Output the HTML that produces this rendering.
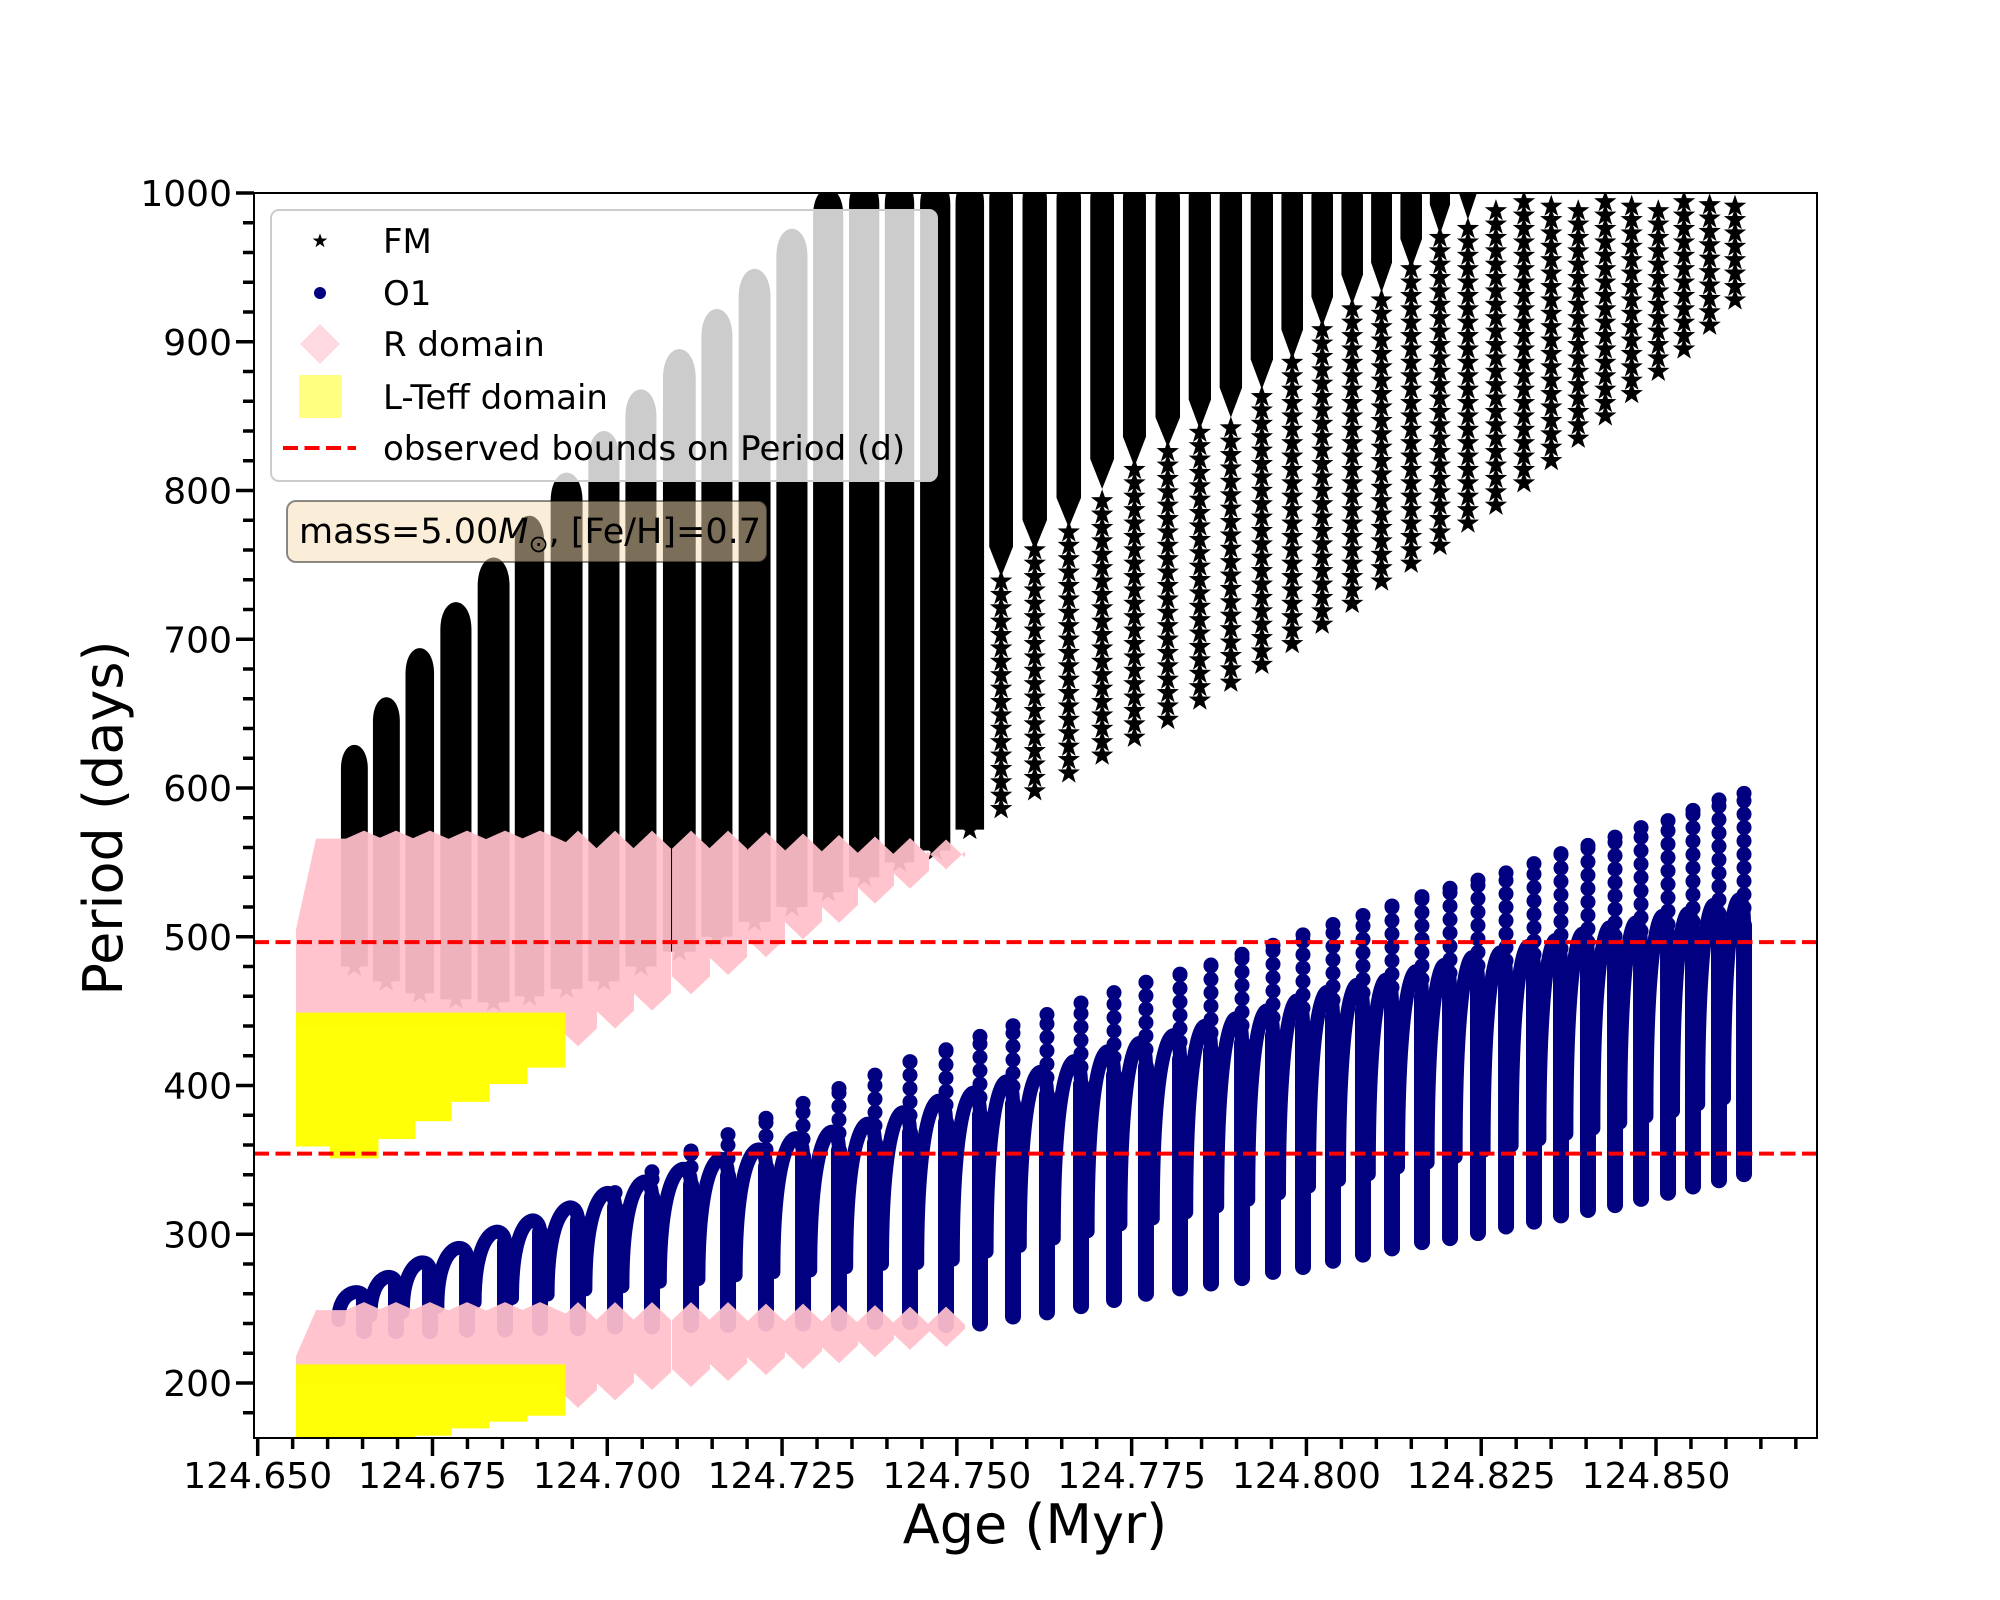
<!DOCTYPE html>
<html><head><meta charset="utf-8"><style>
html,body{margin:0;padding:0;background:#fff;}
svg{display:block;font-family:"DejaVu Sans","Liberation Sans",sans-serif;}
</style></head><body>
<svg id="chart" xmlns="http://www.w3.org/2000/svg" width="2000" height="1600" viewBox="0 0 2000 1600">
<defs>
<clipPath id="plotclip"><rect x="254" y="193" width="1563" height="1245"/></clipPath>
<path id="star" d="M0,-9 L2.1,-2.9 L8.6,-2.8 L3.4,1.1 L5.3,7.3 L0,3.6 L-5.3,7.3 L-3.4,1.1 L-8.6,-2.8 L-2.1,-2.9 Z"/>
</defs>
<rect x="0" y="0" width="2000" height="1600" fill="#fff"/>
<g id="data" clip-path="url(#plotclip)"></g>
<g id="axes"></g>
<rect x="254" y="193" width="1563" height="1245" fill="none" stroke="#000" stroke-width="2"/>
<g id="legend">
  <rect x="271" y="210" width="666" height="271" rx="8" fill="#fff" fill-opacity="0.8" stroke="#cccccc" stroke-width="2"/>
  <use href="#star" transform="translate(320,241) scale(0.85)" fill="#000"/>
  <text x="383" y="253" font-size="34">FM</text>
  <circle cx="320" cy="293" r="6" fill="#000080"/>
  <text x="383" y="305" font-size="34">O1</text>
  <polygon points="320,324 340,344 320,364 300,344" fill="#ffdbe1"/>
  <text x="383" y="356" font-size="34">R domain</text>
  <rect x="299" y="375" width="43" height="43" fill="#ffff80"/>
  <text x="383" y="409" font-size="34">L-Teff domain</text>
  <line x1="283" y1="448" x2="356" y2="448" stroke="#ff0000" stroke-width="4" stroke-dasharray="15,6.5"/>
  <text x="383" y="460" font-size="34">observed bounds on Period (d)</text>
</g>
<g>
  <rect x="287" y="501" width="480" height="61" rx="9" fill="#f5deb3" fill-opacity="0.5" stroke="#000" stroke-opacity="0.45" stroke-width="2"/>
  <text x="299" y="543" font-size="35">mass=5.00<tspan font-style="italic">M</tspan><tspan font-size="24" dy="9">⊙</tspan><tspan dy="-9">, [Fe/H]=0.7</tspan></text>
</g>
<text x="1035" y="1543" font-size="54" text-anchor="middle">Age (Myr)</text>
<text transform="translate(122,818) rotate(-90)" font-size="54" text-anchor="middle">Period (days)</text>
</svg>
<script>
// ---- data ----
var pulseAges = [124.66520,124.66978,124.67464,124.67994,124.68537,124.69038,124.69581,124.70111,124.70640,124.71198,124.71727,124.72270,124.72800,124.73314,124.73829,124.74330,124.74845,124.75331,124.75803,124.76289,124.76776,124.77248,124.77705,124.78192,124.78635,124.79079,124.79522,124.79951,124.80380,124.80809,124.81224,124.81653,124.82054,124.82454,124.82855,124.83255,124.83641,124.84027,124.84414,124.84786,124.85172,124.85529,124.85901,124.86259];
var fmTop = [629,661,694,725,755,783,812,840,868,895,922,949,976,1003,1010,1010,1010,1010,1010,1010,1010,1010,1010,1010,1010,1010,1010,1010,1010,1010,1010,1010,1010,1010,1010,1010,1010,1010,1010,1010,1010,1010,1010,1010];
var fmDense = [480,470,462,458,456,460,465,470,480,490,500,510,520,530,540,550,558,572,742,760,775,801,816,829,841,849,868,888,910,925,933,949,972,982,1000,1000,1000,1000,1000,1000,1000,1000,1000,1000];
var fmLow = [480,470,462,458,456,460,465,470,480,490,500,510,520,530,540,550,558,572,586,598,610,622,634,646,659,671,683,697,710,724,739,751,763,778,790,805,820,835,850,865,880,895,911,928];
var o1Peak = [259.6,269,278,287,297,304,312,321,328,336,342,348,355,359,364,371,378,383,390.3,396.4,403.4,409.7,415.3,420.3,426.4,431.4,436.6,443,448.6,453.3,456.9,462.4,466.6,471.6,474.9,479.1,483.2,487.4,491.5,494.9,499.3,501.3,506.8,510.4];
var o1Max = [259.6,269,278,287,297,304,312,328,342,356,367,378,388,398,407,416,424,433,440.2,447.7,455.5,462.4,469.4,474.9,481,488.2,494.3,501.3,508.2,514.3,520.7,527,532.6,538.1,542.9,549.2,555.9,561.4,567,573.4,578.1,585,592,596.4];
var o1Low = [235,235,235,236,236,237,237,238,238,239,239,240,240,240,241,241,239,240,244.7,247.5,251.7,255.8,260,263.6,266.9,270.5,274.7,278,282.2,286.3,290.5,294.7,297.4,300.8,305.2,308.5,312.7,316.3,319.6,323.8,327.9,332.1,336.3,340.4];
var pinkFmBottom = [440,440,440,440,440,440,429,441,453,464,477,489,501,512,525,535,548];
var pinkFmTop = [566,566,566,566,566,566,566,566,566,566,566,565,564,563,562,561,560];
var pinkO1Bottom = [200,200,200,200,200,200,186,191,198,200,204,208,212,216,220,225,227];
var pinkO1Top = [249,249,249,249,249,249,249,249,249,249,249,248,248,247,247,246,246];
var yellowEdges = [124.65548,124.66034,124.66721,124.67250,124.67765,124.68308,124.68852,124.69395];
var yellowFmBottom = [359,351,364,376,389,401,412];
var yellowFmTop = [449,449,449,449,449,449,449];
var yellowO1Bottom = [160,160,160,164.6,169.5,174,178];
var yellowO1Top = [212.5,212.5,212.5,212.5,212.5,212.5,212.5];
var boundValues = [496.4, 354.2];
var xTickValues = [124.650,124.675,124.700,124.725,124.750,124.775,124.800,124.825,124.850];
var xTickLabels = ["124.650","124.675","124.700","124.725","124.750","124.775","124.800","124.825","124.850"];
var yTickValues = [200,300,400,500,600,700,800,900,1000];
var yTickLabels = ["200","300","400","500","600","700","800","900","1000"];

// ---- axis functions ----
function X(a){ return 257.7 + (a - 124.650) * 6991.5; }
function Y(v){ return 193 + (1000 - v) * 1.4875; }
var NS = "http://www.w3.org/2000/svg";
function mk(tag, attrs, parent){
  var e = document.createElementNS(NS, tag);
  for (var k in attrs) e.setAttribute(k, attrs[k]);
  parent.appendChild(e); return e;
}
var dataG = document.getElementById('data');
var axesG = document.getElementById('axes');

function pitch(i){ return i > 0 ? X(pulseAges[i]) - X(pulseAges[i-1]) : 32; }

// ---- FM series ----
var fmG = mk('g', {fill:'#000'}, dataG);


for (var i = 0; i < pulseAges.length; i++){
  var x = X(pulseAges[i]), p = pitch(i);
  var w = i < 18 ? 0.84*p : 0.72*p;
  var xl = x - 0.72*p, xr = xl + w;
  var xs = (xl + xr)/2;
  if (fmDense[i] < 1000){
    var yb = Y(fmDense[i]), yt = Y(fmTop[i]);
    var ys = Math.min(yb, yt + 0.9*w);
    var yc = (4*yt - ys)/3;
    var tb = i < 18 ? yb : yb - 30;
    var body = mk('path', {d:'M'+xl+','+tb+' L'+xl+','+ys+' C'+xl+','+yc+' '+xr+','+yc+' '+xr+','+ys+' L'+xr+','+tb+' L'+xs+','+yb+' Z'}, fmG);
    
    
  }
  var topStar = Math.min(fmDense[i], 995);
  for (var v = fmLow[i]; v <= topStar; v += 9){
    var st = mk('use', {href:'#star', transform:'translate('+xs+','+Y(v)+') scale(1.3)'}, fmG);
    
    
  }
}

// ---- O1 series ----
var o1G = mk('g', {}, dataG);


for (var i = 0; i < pulseAges.length; i++){
  var x = X(pulseAges[i]), p = pitch(i);
  var xl = x - 0.8*p;
  var ypk = Y(o1Peak[i]);
  var yl = Y(o1Low[i] + 0.3*(o1Peak[i]-o1Low[i]));
  var cy = ypk - 0.25*(yl - ypk);
  var arch = mk('path', {d:'M'+xl+','+yl+' C'+xl+','+cy+' '+x+','+cy+' '+x+','+(ypk+4), fill:'none', stroke:'#000080', 'stroke-width':14, 'stroke-linecap':'round'}, o1G);
  
  
  var col = mk('line', {x1:x, x2:x, y1:Y(o1Low[i]), y2:ypk+4, stroke:'#000080', 'stroke-width':16, 'stroke-linecap':'round'}, o1G);
  
  
  for (var v = o1Peak[i] + 9; v <= o1Max[i]; v += 9){
    var d = mk('circle', {cx:x, cy:Y(v), r:7.5, fill:'#000080'}, o1G);
    
    
  }
  if (o1Max[i] > o1Peak[i]){
    var d2 = mk('circle', {cx:x, cy:Y(o1Max[i]), r:7.5, fill:'#000080'}, o1G);
    
    
  }
}

// ---- R domain (pink) ----
var pinkG = mk('g', {fill:'#ffc0cb', opacity:0.93}, dataG);


function pinkLead(bot, topStart, topEnd){
  var x0 = X(yellowEdges[0]), x1 = X(pulseAges[0]);
  var lp = mk('polygon', {points: x0+','+Y(bot)+' '+x0+','+Y(topStart)+' '+(x0+20)+','+Y(topEnd)+' '+x1+','+Y(topEnd)+' '+x1+','+Y(bot)}, pinkG);
  
  
}
pinkLead(440, 505, 566);
pinkLead(200, 218, 249);
function pinkCol(i, bot, top){
  var x = X(pulseAges[i]), hw = 19, yb = Y(bot), yt = Y(top);
  var pts = [x+','+(yt-8), (x+hw)+','+(yt+10), (x+hw)+','+(yb-14), x+','+(yb+4), (x-hw)+','+(yb-14), (x-hw)+','+(yt+10)];
  if (i < 6){ pts = [(x-hw-8)+','+(yt+4), x+','+(yt-8), (x+hw+8)+','+(yt+4), (x+hw+8)+','+yb, (x-hw-8)+','+yb]; }
  var pc = mk('polygon', {points: pts.join(' ')}, pinkG);
  
  
}
for (var i = 0; i < pinkFmBottom.length; i++){
  pinkCol(i, pinkFmBottom[i], pinkFmTop[i]);
  pinkCol(i, pinkO1Bottom[i], pinkO1Top[i]);
}

// ---- L-Teff domain (yellow) ----
var yelG = mk('g', {fill:'#ffff00', opacity:0.97}, dataG);


for (var i = 0; i < yellowFmBottom.length; i++){
  var xa = X(yellowEdges[i]), xb = X(yellowEdges[i+1]);
  var r1 = mk('rect', {x:xa, y:Y(yellowFmTop[i]), width:xb-xa+0.5, height:Y(yellowFmBottom[i])-Y(yellowFmTop[i])}, yelG);
  
  
  var r2 = mk('rect', {x:xa, y:Y(yellowO1Top[i]), width:xb-xa+0.5, height:Y(yellowO1Bottom[i])-Y(yellowO1Top[i])}, yelG);
  
  
}

// ---- observed bounds ----
for (var b = 0; b < boundValues.length; b++){
  var ln = mk('line', {x1:254, x2:1817, y1:Y(boundValues[b]), y2:Y(boundValues[b]), stroke:'#ff0000', 'stroke-width':4, 'stroke-dasharray':'15,6.5'}, dataG);
  
  
}

// ---- axes ticks ----
for (var t = 0; t <= 44; t++){
  var a = 124.650 + t*0.005;
  var major = (t % 5 === 0);
  var tx = X(a);
  var tk = mk('line', {x1:tx, x2:tx, y1:1438, y2:1438 + (major ? 18 : 11), stroke:'#000', 'stroke-width': 3.5}, axesG);
  
  
}
for (var i = 0; i < xTickValues.length; i++){
  var lb = mk('text', {x:X(xTickValues[i]), y:1488, 'font-size':36, 'text-anchor':'middle'}, axesG);
  lb.textContent = xTickLabels[i];
  
  
}
for (var v = 180; v <= 1000; v += 20){
  var major = (v % 100 === 0);
  var ty = Y(v);
  var tk = mk('line', {x1:254 - (major ? 18 : 11), x2:254, y1:ty, y2:ty, stroke:'#000', 'stroke-width': 3.5}, axesG);
  
  
}
for (var i = 0; i < yTickValues.length; i++){
  var lb = mk('text', {x:232, y:Y(yTickValues[i]) + 13, 'font-size':36, 'text-anchor':'end'}, axesG);
  lb.textContent = yTickLabels[i];
  
  
}
</script>
</body></html>
